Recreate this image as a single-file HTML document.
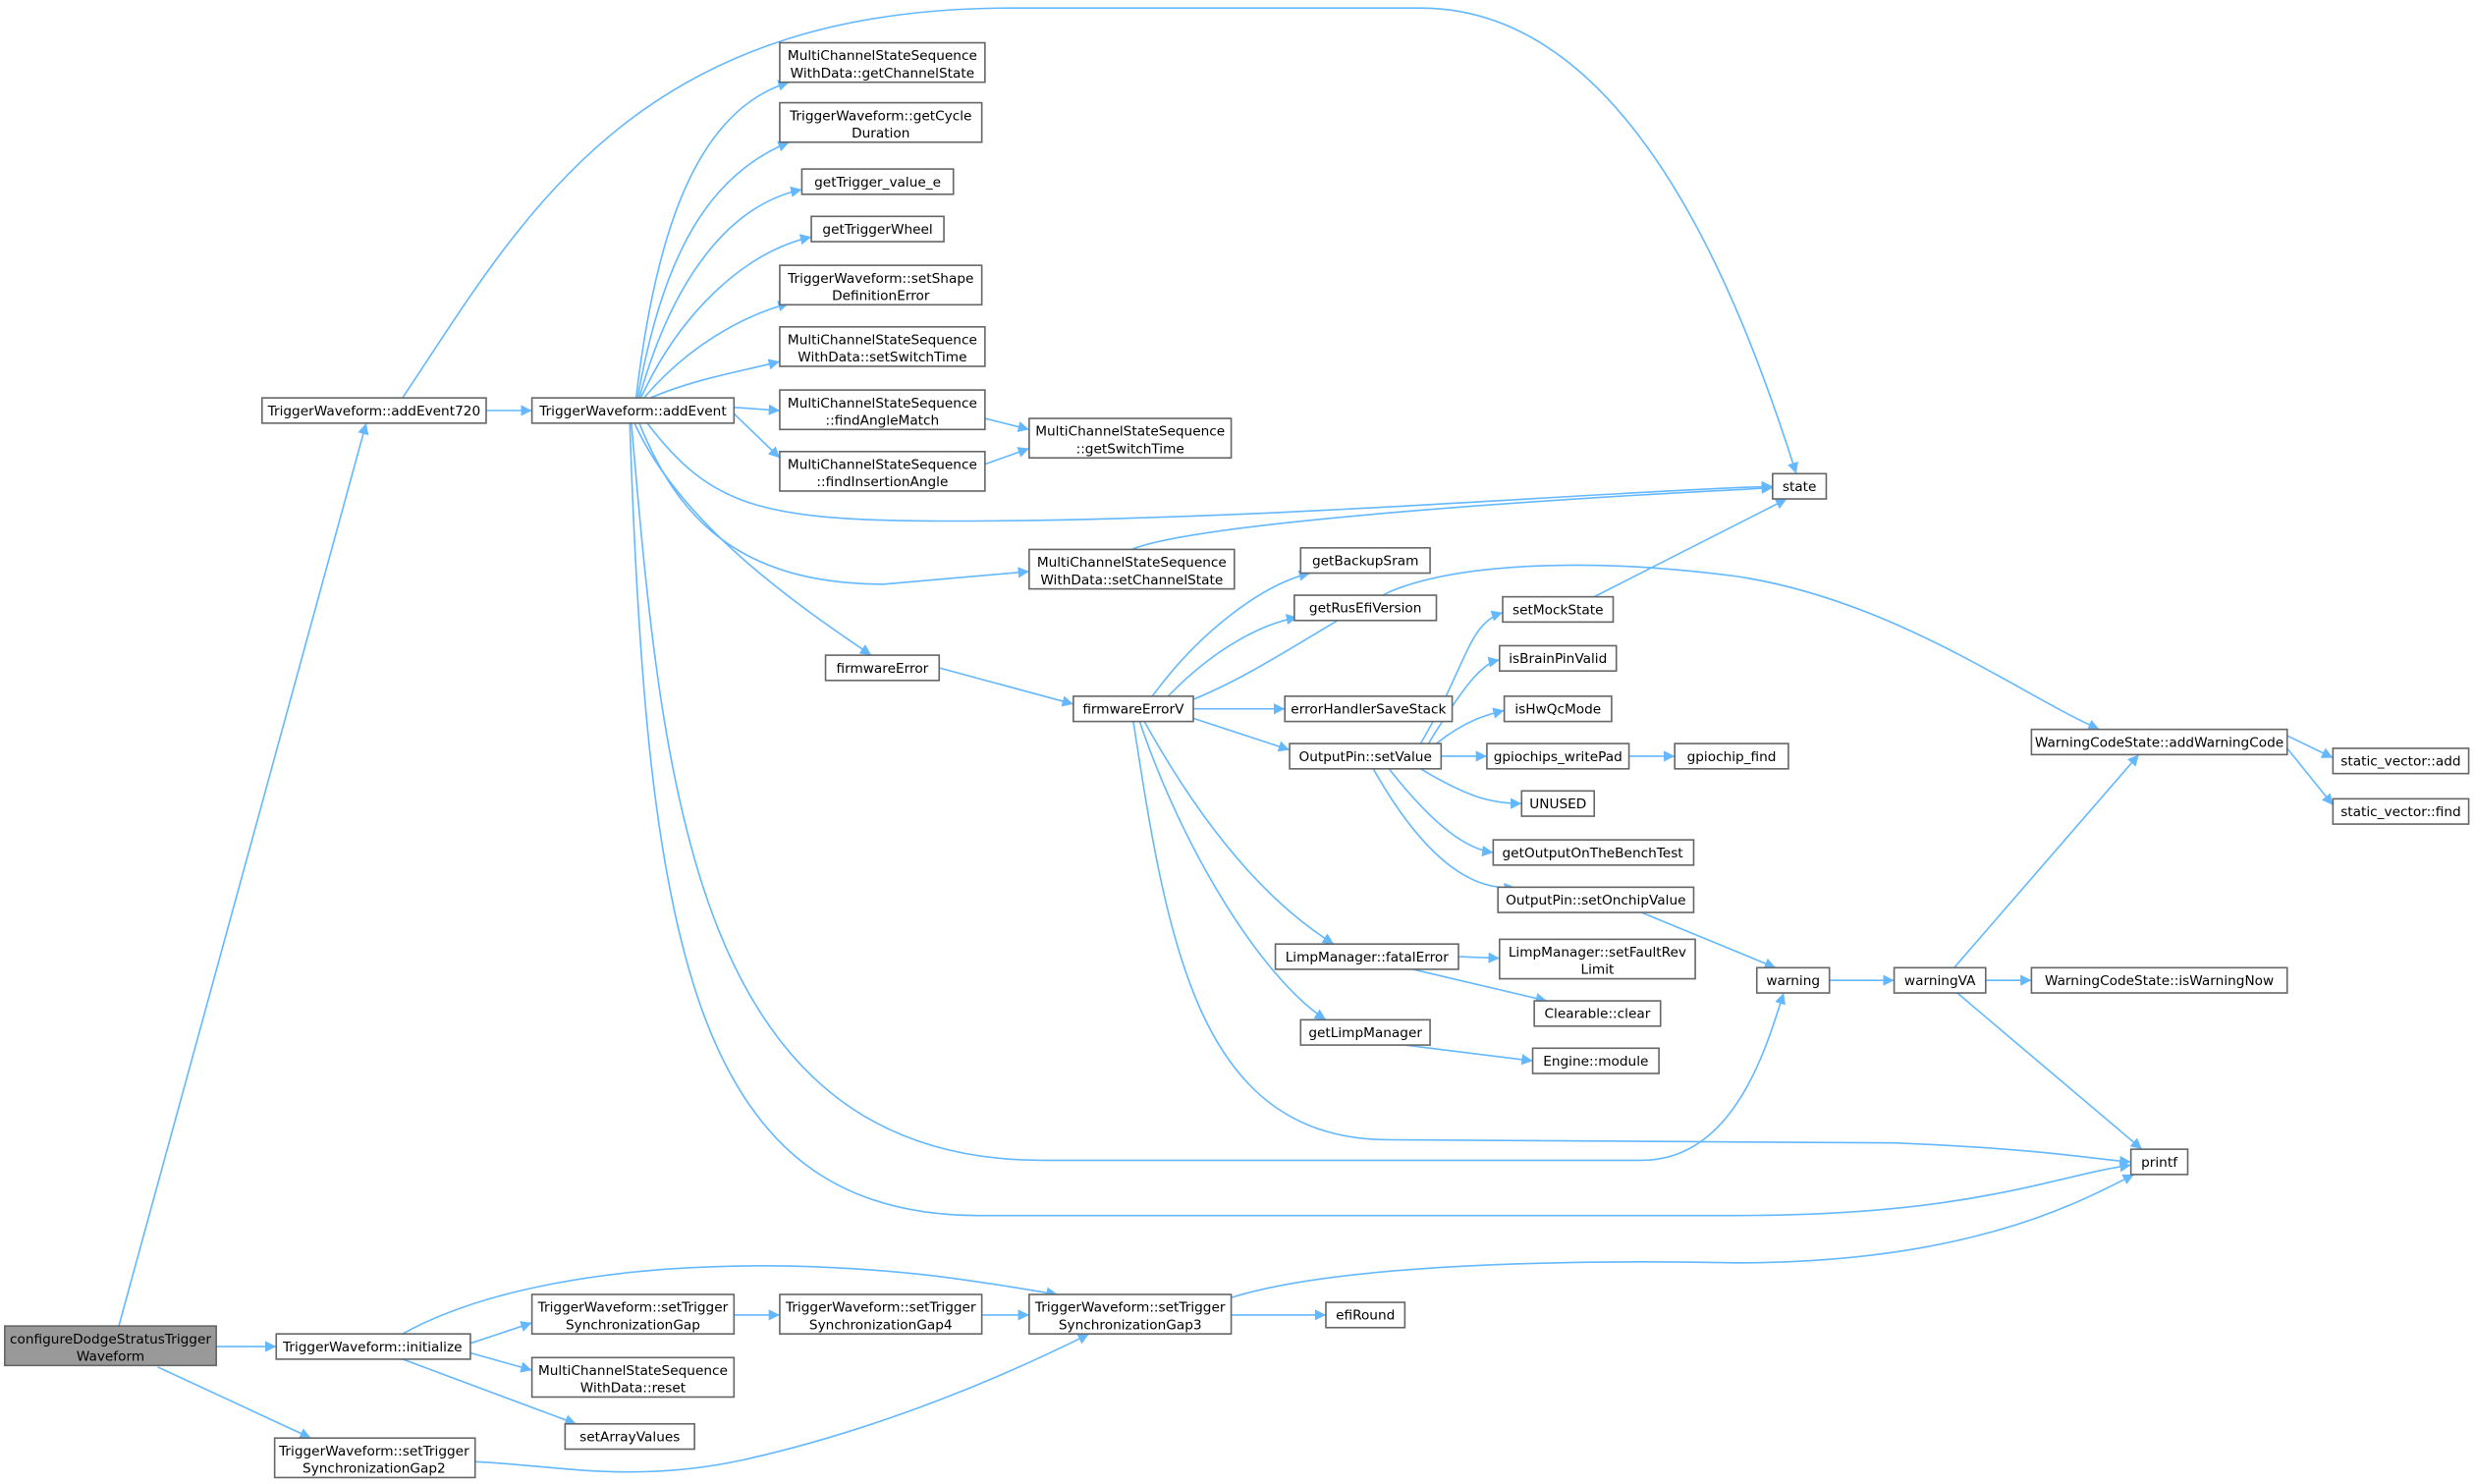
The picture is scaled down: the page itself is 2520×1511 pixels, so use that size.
<!DOCTYPE html>
<html><head><meta charset="utf-8"><style>
html,body{margin:0;padding:0;background:#fff;}
svg{display:block;}
text{font-family:"DejaVu Sans","Liberation Sans",sans-serif;font-size:8.5px;fill:#000;text-anchor:middle;}
.n{fill:#fff;stroke:#666;stroke-width:1;}
.g{fill:#999;stroke:#666;stroke-width:1;}
.e{fill:none;stroke:#63b8ff;stroke-width:1;}
</style></head><body>
<svg width="2520" height="1511" viewBox="0 0 1568 940" xmlns="http://www.w3.org/2000/svg">
<defs><marker id="a" viewBox="0 0 10 10" refX="10" refY="5" markerWidth="7" markerHeight="7" orient="auto" markerUnits="userSpaceOnUse"><path d="M0,0 L10,5 L0,10 z" fill="#63b8ff"/></marker></defs>
<g marker-end="url(#a)">
<path class="e" d="M75,841 L232,268"/>
<path class="e" d="M137,853 L175,853"/>
<path class="e" d="M100,866 L197,911"/>
<path class="e" d="M308,260 L337,260"/>
<path class="e" d="M255,252 C330,140 400,5 640,5 L900,5 C1030,5 1100,180 1138,300"/>
<path class="e" d="M403,252 C415,150 440,70 500,52"/>
<path class="e" d="M404,252 C420,160 450,110 500,90"/>
<path class="e" d="M405,252 C425,180 460,130 508,120"/>
<path class="e" d="M406,252 C430,200 470,160 514,150"/>
<path class="e" d="M408,252 C435,220 470,200 500,192"/>
<path class="e" d="M412,252 C440,240 470,235 494,229"/>
<path class="e" d="M465,258 L494,260"/>
<path class="e" d="M465,262 L494,290"/>
<path class="e" d="M624,265 L652,272"/>
<path class="e" d="M624,294 L652,284"/>
<path class="e" d="M410,268 C450,320 480,330 600,330 C800,330 1000,312 1123,308"/>
<path class="e" d="M405,268 C430,330 470,370 560,370 L652,362"/>
<path class="e" d="M717,348 C760,330 1000,315 1123,309"/>
<path class="e" d="M402,268 C430,330 500,380 552,415"/>
<path class="e" d="M400,268 C420,500 440,735 660,735 L1040,735 C1100,735 1120,660 1130,629"/>
<path class="e" d="M399,268 C410,600 440,770 620,770 L1100,770 C1250,770 1300,745 1350,738"/>
<path class="e" d="M595,423 L680,446"/>
<path class="e" d="M730,441 C760,400 800,370 830,363"/>
<path class="e" d="M740,441 C770,410 800,395 822,391"/>
<path class="e" d="M756,443 C800,425 840,395 880,375 C920,358 1000,352 1100,365 C1200,380 1280,440 1330,462"/>
<path class="e" d="M756,449 L814,449"/>
<path class="e" d="M756,455 L817,475"/>
<path class="e" d="M725,457 C760,520 800,570 845,598"/>
<path class="e" d="M722,457 C750,540 800,620 840,646"/>
<path class="e" d="M718,457 C740,600 760,722 880,722 L1200,724 C1300,728 1330,735 1350,736"/>
<path class="e" d="M900,471 C930,420 930,395 952,388"/>
<path class="e" d="M905,471 C930,430 940,420 950,418"/>
<path class="e" d="M910,471 C930,455 945,452 953,450"/>
<path class="e" d="M913,479 L942,479"/>
<path class="e" d="M900,487 C930,505 945,509 964,509"/>
<path class="e" d="M880,487 C910,525 930,538 946,540"/>
<path class="e" d="M870,487 C900,540 930,565 960,562"/>
<path class="e" d="M1010,378 L1132,316"/>
<path class="e" d="M1032,479 L1061,479"/>
<path class="e" d="M1040,578 L1125,613"/>
<path class="e" d="M924,606 L950,607"/>
<path class="e" d="M895,614 L980,634"/>
<path class="e" d="M890,662 L971,672"/>
<path class="e" d="M1159,621 L1200,621"/>
<path class="e" d="M1238,613 L1355,478"/>
<path class="e" d="M1258,621 L1287,621"/>
<path class="e" d="M1240,629 L1357,728"/>
<path class="e" d="M1449,466 L1478,480"/>
<path class="e" d="M1449,474 L1478,510"/>
<path class="e" d="M298,851 L337,838"/>
<path class="e" d="M298,857 L337,868"/>
<path class="e" d="M255,861 L365,902"/>
<path class="e" d="M255,845 C300,820 380,800 500,802 C580,804 620,812 670,820"/>
<path class="e" d="M465,833 L494,833"/>
<path class="e" d="M622,833 L652,833"/>
<path class="e" d="M780,833 L840,833"/>
<path class="e" d="M780,822 C850,800 1000,798 1100,800 C1250,800 1320,760 1352,744"/>
<path class="e" d="M301,926 C350,928 400,940 470,925 C560,905 640,870 690,845"/>
</g>
<rect class="g" x="3" y="840" width="134" height="25"/><text x="70" y="851">configureDodgeStratusTrigger</text><text x="70" y="862">Waveform</text>
<rect class="n" x="166" y="252" width="142" height="16"/><text x="237" y="263">TriggerWaveform::addEvent720</text>
<rect class="n" x="337" y="252" width="128" height="16"/><text x="401" y="263">TriggerWaveform::addEvent</text>
<rect class="n" x="175" y="845" width="123" height="16"/><text x="236" y="856">TriggerWaveform::initialize</text>
<rect class="n" x="174" y="911" width="127" height="25"/><text x="237" y="922">TriggerWaveform::setTrigger</text><text x="237" y="933">SynchronizationGap2</text>
<rect class="n" x="494" y="27" width="130" height="25"/><text x="559" y="38">MultiChannelStateSequence</text><text x="559" y="49">WithData::getChannelState</text>
<rect class="n" x="494" y="65" width="128" height="25"/><text x="558" y="76">TriggerWaveform::getCycle</text><text x="558" y="87">Duration</text>
<rect class="n" x="508" y="107" width="96" height="16"/><text x="556" y="118">getTrigger_value_e</text>
<rect class="n" x="514" y="137" width="84" height="16"/><text x="556" y="148">getTriggerWheel</text>
<rect class="n" x="494" y="168" width="128" height="25"/><text x="558" y="179">TriggerWaveform::setShape</text><text x="558" y="190">DefinitionError</text>
<rect class="n" x="494" y="207" width="130" height="25"/><text x="559" y="218">MultiChannelStateSequence</text><text x="559" y="229">WithData::setSwitchTime</text>
<rect class="n" x="494" y="247" width="130" height="25"/><text x="559" y="258">MultiChannelStateSequence</text><text x="559" y="269">::findAngleMatch</text>
<rect class="n" x="494" y="286" width="130" height="25"/><text x="559" y="297">MultiChannelStateSequence</text><text x="559" y="308">::findInsertionAngle</text>
<rect class="n" x="652" y="265" width="128" height="25"/><text x="716" y="276">MultiChannelStateSequence</text><text x="716" y="287">::getSwitchTime</text>
<rect class="n" x="1123" y="300" width="34" height="16"/><text x="1140" y="311">state</text>
<rect class="n" x="652" y="348" width="130" height="25"/><text x="717" y="359">MultiChannelStateSequence</text><text x="717" y="370">WithData::setChannelState</text>
<rect class="n" x="824" y="347" width="82" height="16"/><text x="865" y="358">getBackupSram</text>
<rect class="n" x="820" y="377" width="90" height="16"/><text x="865" y="388">getRusEfiVersion</text>
<rect class="n" x="523" y="415" width="72" height="16"/><text x="559" y="426">firmwareError</text>
<rect class="n" x="680" y="441" width="76" height="16"/><text x="718" y="452">firmwareErrorV</text>
<rect class="n" x="814" y="441" width="106" height="16"/><text x="867" y="452">errorHandlerSaveStack</text>
<rect class="n" x="952" y="378" width="70" height="16"/><text x="987" y="389">setMockState</text>
<rect class="n" x="950" y="409" width="74" height="16"/><text x="987" y="420">isBrainPinValid</text>
<rect class="n" x="953" y="441" width="68" height="16"/><text x="987" y="452">isHwQcMode</text>
<rect class="n" x="817" y="471" width="96" height="16"/><text x="865" y="482">OutputPin::setValue</text>
<rect class="n" x="942" y="471" width="90" height="16"/><text x="987" y="482">gpiochips_writePad</text>
<rect class="n" x="1061" y="471" width="72" height="16"/><text x="1097" y="482">gpiochip_find</text>
<rect class="n" x="964" y="501" width="46" height="16"/><text x="987" y="512">UNUSED</text>
<rect class="n" x="946" y="532" width="127" height="16"/><text x="1009" y="543">getOutputOnTheBenchTest</text>
<rect class="n" x="949" y="562" width="124" height="16"/><text x="1011" y="573">OutputPin::setOnchipValue</text>
<rect class="n" x="808" y="598" width="116" height="16"/><text x="866" y="609">LimpManager::fatalError</text>
<rect class="n" x="950" y="595" width="124" height="25"/><text x="1012" y="606">LimpManager::setFaultRev</text><text x="1012" y="617">Limit</text>
<rect class="n" x="972" y="634" width="80" height="16"/><text x="1012" y="645">Clearable::clear</text>
<rect class="n" x="824" y="646" width="82" height="16"/><text x="865" y="657">getLimpManager</text>
<rect class="n" x="971" y="664" width="80" height="16"/><text x="1011" y="675">Engine::module</text>
<rect class="n" x="1113" y="613" width="46" height="16"/><text x="1136" y="624">warning</text>
<rect class="n" x="1200" y="613" width="58" height="16"/><text x="1229" y="624">warningVA</text>
<rect class="n" x="1287" y="462" width="162" height="16"/><text x="1368" y="473">WarningCodeState::addWarningCode</text>
<rect class="n" x="1478" y="474" width="86" height="16"/><text x="1521" y="485">static_vector::add</text>
<rect class="n" x="1478" y="506" width="86" height="16"/><text x="1521" y="517">static_vector::find</text>
<rect class="n" x="1287" y="613" width="162" height="16"/><text x="1368" y="624">WarningCodeState::isWarningNow</text>
<rect class="n" x="1350" y="728" width="36" height="16"/><text x="1368" y="739">printf</text>
<rect class="n" x="337" y="820" width="128" height="25"/><text x="401" y="831">TriggerWaveform::setTrigger</text><text x="401" y="842">SynchronizationGap</text>
<rect class="n" x="494" y="820" width="128" height="25"/><text x="558" y="831">TriggerWaveform::setTrigger</text><text x="558" y="842">SynchronizationGap4</text>
<rect class="n" x="652" y="820" width="128" height="25"/><text x="716" y="831">TriggerWaveform::setTrigger</text><text x="716" y="842">SynchronizationGap3</text>
<rect class="n" x="840" y="825" width="50" height="16"/><text x="865" y="836">efiRound</text>
<rect class="n" x="337" y="860" width="128" height="25"/><text x="401" y="871">MultiChannelStateSequence</text><text x="401" y="882">WithData::reset</text>
<rect class="n" x="358" y="902" width="82" height="16"/><text x="399" y="913">setArrayValues</text>
</svg>
</body></html>
